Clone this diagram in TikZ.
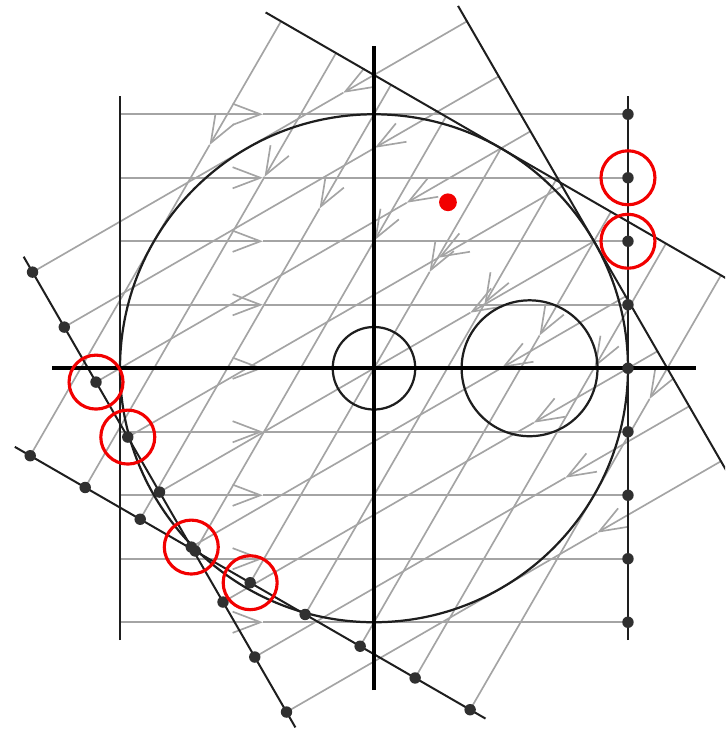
\documentclass[tikz,border=0pt]{standalone}
\usetikzlibrary{arrows.meta, calc}
\definecolor{cray}{HTML}{A4A4A4}
\definecolor{cline}{HTML}{1E1E1E}
\definecolor{cdot}{HTML}{303030}
\definecolor{cred}{HTML}{F20000}
\tikzset{
  ray/.style={draw=cray, line width=0.75pt},
  rayhead/.style={-{Straight Barb[length=12.5pt, width=9.5pt]}},
  detline/.style={draw=cline, line width=0.9pt},
  axis/.style={draw=black, line width=1.8pt},
  body/.style={draw=cline, line width=1pt},
  detdot/.style={fill=cdot},
  hitring/.style={draw=cred, line width=1.4pt},
}

\begin{document}
\begin{tikzpicture}
  \clip (-5.89,-5.76) rectangle (5.53,5.80);
  \foreach \ang/\p/\dd in {0/a/4, 240/b/3.9, 210/c/3.9} {
    \begin{scope}[rotate=\ang]
      \coordinate (srclo-\p) at (-4,-4.28);
      \coordinate (srchi-\p) at (-4,4.28);
      \coordinate (detlo-\p) at (\dd,-4.28);
      \coordinate (dethi-\p) at (\dd,4.28);
      \foreach \s in {-4,...,4} {
        \coordinate (src-\p-\s) at (-4,\s);
        \coordinate (mid-\p-\s) at (-1.75,\s);
        \coordinate (det-\p-\s) at (\dd,\s);
        \draw[ray, rayhead] (src-\p-\s) -- (mid-\p-\s);
        \draw[ray] (mid-\p-\s) -- (det-\p-\s);
      }
    \end{scope}
  }
  \foreach \p in {a,b,c} {
    \draw[detline] (srclo-\p) -- (srchi-\p);
    \draw[detline] (detlo-\p) -- (dethi-\p);
  }
  \draw[body] (0,0) circle (4);
  \draw[body] (0,0) circle (0.65);
  \draw[body] (2.45,0) circle (1.07);
  \coordinate (xl) at (-5.07,0);
  \coordinate (xr) at (5.07,0);
  \coordinate (yb) at (0,-5.07);
  \coordinate (yt) at (0,5.07);
  \draw[axis] (xl) -- (xr);
  \draw[axis] (yb) -- (yt);
  \foreach \p in {a,b,c} {
    \foreach \s in {-4,...,4} {
      \fill[detdot] (det-\p-\s) circle (0.09);
    }
  }
  \foreach \h in {a-3, a-2, c--2, c--1, c-1, b-0} {
    \draw[hitring] (det-\h) circle (0.425);
  }
  \fill[cred] (1.165,2.614) circle (0.14);
\end{tikzpicture}
\end{document}
